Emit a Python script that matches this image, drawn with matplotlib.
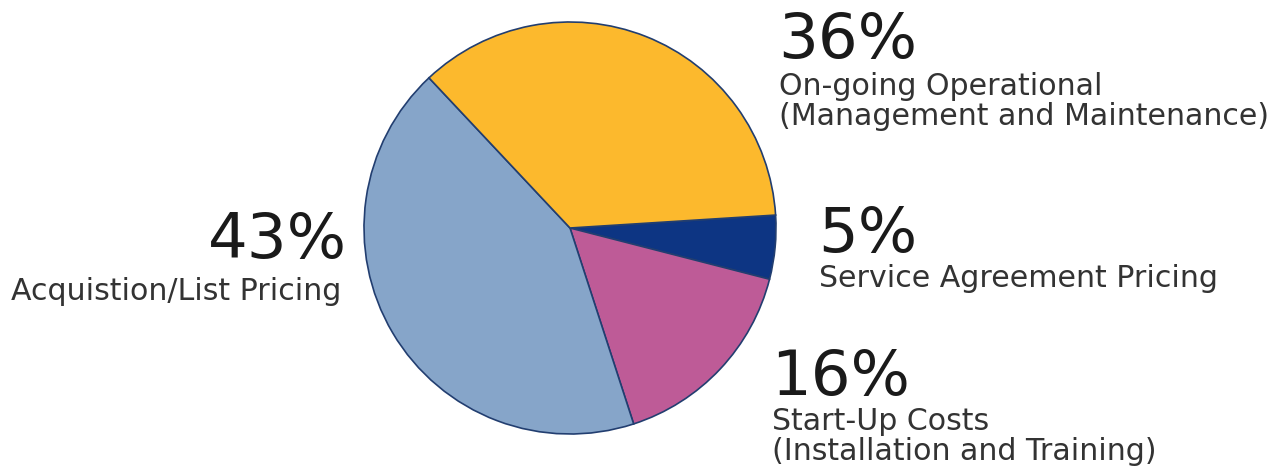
import matplotlib
matplotlib.use("Agg")
import matplotlib.pyplot as plt

categories = ["Service Agreement Pricing", "Start-Up Costs", "Acquistion/List Pricing", "On-going Operational"]
values = [5, 16, 43, 36]
pct_labels = ["5%", "16%", "43%", "36%"]
desc_lines = [["Service Agreement Pricing"],
              ["Start-Up Costs", "(Installation and Training)"],
              ["Acquistion/List Pricing"],
              ["On-going Operational", "(Management and Maintenance)"]]
colors = ["#0D3583", "#BE5B97", "#86A5C9", "#FCB92D"]

W, H = 1285, 471
fig = plt.figure(figsize=(W / 100, H / 100), dpi=100)
ax = fig.add_axes([0, 0, 1, 1])

ax.pie(values, colors=colors, startangle=3.6, counterclock=False,
       center=(570, H - 228), radius=206, frame=True,
       wedgeprops=dict(edgecolor="#223E70", linewidth=1.2))
ax.set_xlim(0, W)
ax.set_ylim(0, H)
ax.axis("off")

big = 45
small = 21.6
line_gap = 30
# (x, baseline_y_px, ha) for percent; (x, first baseline_y_px) for description
pct_pos = [(818, 252, "left"), (771, 395, "left"), (347, 258, "right"), (778, 58, "left")]
desc_pos = [(819, 287), (772, 430), (11, 300), (779, 95)]
for p, lines, (px, py, pha), (dx, dy) in zip(pct_labels, desc_lines, pct_pos, desc_pos):
    ax.text(px, H - py, p, fontsize=big, ha=pha, va="baseline", color="#1a1a1a", family="DejaVu Sans")
    for i, ln in enumerate(lines):
        ax.text(dx, H - (dy + i * line_gap), ln, fontsize=small, ha="left", va="baseline",
                color="#333333", family="DejaVu Sans")

fig.savefig("out.png", dpi=100, facecolor="white")
